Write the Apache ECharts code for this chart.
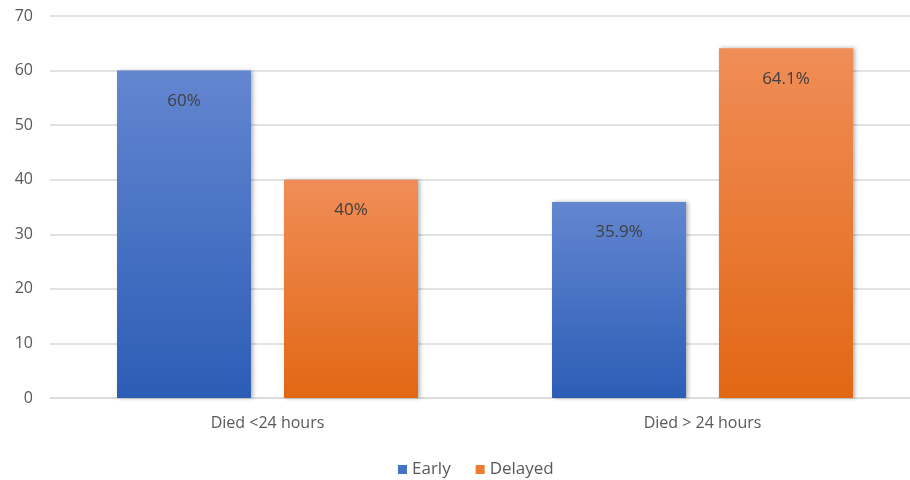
<!DOCTYPE html>
<html>
<head>
<meta charset="utf-8">
<script src="https://cdn.jsdelivr.net/npm/echarts@6/dist/echarts.min.js"></script>
<style>
  html, body { margin: 0; padding: 0; background: #fff; }
  #chart { width: 910px; height: 480px; }
</style>
</head>
<body>
<div id="chart"></div>
<script>
// data
var categories = ['Died <24 hours', 'Died > 24 hours'];
var earlyValues = [60, 35.9];
var delayedValues = [40, 64.1];
var yTicks = [0, 70, 10]; // min, max, interval

var myChart = echarts.init(document.getElementById('chart'));

function grad(top, bottom) {
  return new echarts.graphic.LinearGradient(0, 0, 0, 1, [
    { offset: 0, color: top },
    { offset: 1, color: bottom }
  ]);
}

var barLabel = {
  show: true,
  position: 'insideTop',
  distance: 22,
  color: '#404040',
  fontSize: 17,
  fontFamily: 'Open Sans',
  formatter: function (p) { return p.value + '%'; }
};

var shadow = {
  shadowBlur: 4,
  shadowOffsetX: 2,
  shadowOffsetY: 0,
  shadowColor: 'rgba(0,0,0,0.3)'
};

var option = {
  animation: false,
  textStyle: { fontFamily: 'Open Sans' },
  // grid runs past the right edge like the original (gridlines are cut off)
  grid: { left: 50, top: 16, width: 870, height: 382, containLabel: false, outerBoundsMode: 'none' },
  legend: {
    top: 456,
    left: 393,
    icon: 'rect',
    itemWidth: 9,
    itemHeight: 9,
    itemGap: 25,
    textStyle: { color: '#595959', fontSize: 17, fontFamily: 'Open Sans' },
    data: [
      { name: 'Early', itemStyle: { color: '#4472c4' } },
      { name: 'Delayed', itemStyle: { color: '#ed7d31' } }
    ]
  },
  xAxis: {
    type: 'category',
    data: categories,
    axisTick: { show: false },
    axisLine: { lineStyle: { color: '#d9d9d9', width: 1.5 } },
    axisLabel: { color: '#595959', fontSize: 16, margin: 17, fontFamily: 'Open Sans' }
  },
  yAxis: {
    type: 'value',
    min: yTicks[0],
    max: yTicks[1],
    interval: yTicks[2],
    axisLine: { show: false },
    axisTick: { show: false },
    axisLabel: { color: '#595959', fontSize: 16, margin: 17, fontFamily: 'Open Sans' },
    splitLine: { lineStyle: { color: '#d9d9d9', width: 1.5 } }
  },
  series: [
    {
      name: 'Early',
      type: 'bar',
      data: earlyValues,
      barWidth: 134,
      barGap: '24.6%',
      label: barLabel,
      itemStyle: Object.assign({ color: grad('#6386d0', '#2c5db6') }, shadow)
    },
    {
      name: 'Delayed',
      type: 'bar',
      data: delayedValues,
      barWidth: 134,
      label: barLabel,
      itemStyle: Object.assign({ color: grad('#f08d57', '#e26714') }, shadow)
    }
  ]
};

myChart.setOption(option);
</script>
</body>
</html>
